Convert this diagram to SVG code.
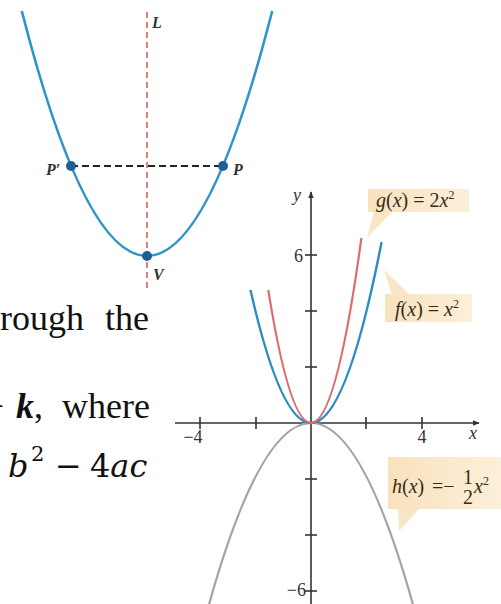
<svg xmlns="http://www.w3.org/2000/svg" width="501" height="604" viewBox="0 0 501 604">
<defs>
<style>
.body{font-family:"Liberation Serif","Times New Roman",serif;font-size:36px;fill:#111}
.math{font-family:"DejaVu Serif","Liberation Serif",serif;font-size:32px;fill:#111}
.pl{font-family:"Liberation Serif","Times New Roman",serif;font-size:16px;font-style:italic;font-weight:bold;fill:#333}
.lab{font-family:"Liberation Serif","Times New Roman",serif;font-size:20px;fill:#3a2a1a}
.tick{font-family:"Liberation Serif","Times New Roman",serif;font-size:18px;fill:#333}
.axis{stroke:#333;stroke-width:1.6;fill:none}
.tk{stroke:#333;stroke-width:1.6}
.box{fill:#fae6c6}
.it{font-style:italic}
</style>
<linearGradient id="bg" x1="0" y1="0" x2="1" y2="0">
<stop offset="0" stop-color="#f8e2bd"/>
<stop offset="1" stop-color="#fcefd9"/>
</linearGradient>
<marker id="ah" viewBox="0 0 10 10" refX="9" refY="5" markerWidth="7" markerHeight="7" orient="auto" markerUnits="userSpaceOnUse">
<path d="M0,1 L10,5 L0,9 Z" fill="#333"/>
</marker>
</defs>
<rect x="0" y="0" width="501" height="604" fill="#ffffff"/>

<!-- right graph -->
<g id="graph">
<g id="axes">
<line class="axis" x1="175" y1="423" x2="479" y2="423" marker-end="url(#ah)"/>
<line class="axis" x1="311" y1="604" x2="311" y2="192" marker-end="url(#ah)"/>
<line class="tk" x1="200" y1="417" x2="200" y2="429"/>
<line class="tk" x1="256" y1="417" x2="256" y2="429"/>
<line class="tk" x1="366" y1="417" x2="366" y2="429"/>
<line class="tk" x1="422" y1="417" x2="422" y2="429"/>
<line class="tk" x1="305" y1="255" x2="317" y2="255"/>
<line class="tk" x1="305" y1="311" x2="317" y2="311"/>
<line class="tk" x1="305" y1="367" x2="317" y2="367"/>
<line class="tk" x1="305" y1="479" x2="317" y2="479"/>
<line class="tk" x1="305" y1="535" x2="317" y2="535"/>
<line class="tk" x1="305" y1="591" x2="317" y2="591"/>
<text class="tick it" x="293" y="201">y</text>
<text class="tick it" x="469" y="439">x</text>
<text class="tick" x="303" y="262" text-anchor="end">6</text>
<text class="tick" x="306" y="596" text-anchor="end">−6</text>
<text class="tick" x="193" y="443" text-anchor="middle">−4</text>
<text class="tick" x="422" y="443" text-anchor="middle">4</text>
</g>
<g id="curves">
<path d="M208.3,607 Q311,239 413.7,607" fill="none" stroke="#a3a3a3" stroke-width="2.2"/>
<path d="M240.4,242 Q311,604 381.6,242" fill="none" stroke="#2a8cc4" stroke-width="2.4"/>
<path d="M260.6,238 Q311,608 361.4,238" fill="none" stroke="#dc6a72" stroke-width="2.2"/>
</g>
<g id="label-g">
<polygon class="box" points="374,211 393,211 367,238"/>
<rect x="368" y="189" width="101" height="23" fill="url(#bg)"/>
<text class="lab" x="376" y="207"><tspan class="it">g</tspan>(<tspan class="it">x</tspan>) = 2<tspan class="it">x</tspan><tspan font-size="12" dy="-8">2</tspan></text>
</g>
<g id="label-f">
<polygon class="box" points="392,295 410,295 384,270"/>
<rect x="385" y="294" width="87" height="28" fill="url(#bg)"/>
<text class="lab" x="395" y="316"><tspan class="it">f</tspan>(<tspan class="it">x</tspan>) = <tspan class="it">x</tspan><tspan font-size="12" dy="-8">2</tspan></text>
</g>
<g id="label-h">
<polygon class="box" points="398,508 420,508 399,531"/>
<rect x="388" y="457" width="113" height="52" fill="url(#bg)"/>
<text class="lab" x="392" y="493"><tspan class="it">h</tspan>(<tspan class="it">x</tspan>)<tspan x="432">=−</tspan></text>
<text class="lab" x="468" y="484" text-anchor="middle">1</text>
<text class="lab" x="468" y="504" text-anchor="middle">2</text>
<text class="lab" x="474" y="493"><tspan class="it">x</tspan><tspan font-size="12" dy="-8">2</tspan></text>
</g>
</g>

<!-- white cover of first figure -->
<rect x="0" y="0" width="270" height="290" fill="#ffffff"/>

<!-- left parabola figure -->
<g id="parabola">
<line x1="147" y1="12" x2="147" y2="290" stroke="#d9534f" stroke-width="1.5" stroke-dasharray="6,4"/>
<path d="M21.8,11 Q147,501 272.2,11" fill="none" stroke="#2f94c9" stroke-width="2.6"/>
</g>
<g id="connectors">
<line x1="71" y1="166" x2="223" y2="166" stroke="#222" stroke-width="1.8" stroke-dasharray="7,4"/>
</g>
<g id="node-P1">
<circle cx="71" cy="166" r="5" fill="#1e5f96"/>
<text class="pl" x="46" y="175">P′</text>
</g>
<g id="node-P">
<circle cx="223" cy="166" r="5" fill="#1e5f96"/>
<text class="pl" x="233" y="175">P</text>
</g>
<g id="node-V">
<circle cx="147" cy="256" r="5" fill="#1e5f96"/>
<text class="pl" x="153" y="280">V</text>
</g>
<g id="node-L">
<text class="pl" x="152" y="28">L</text>
</g>

<!-- text -->
<g id="paragraph">
<text class="body" x="0" y="330">rough <tspan x="105">the</tspan></text>
<text class="body" x="4" y="418" text-anchor="end">+</text>
<text class="body" x="16" y="418"><tspan font-weight="bold" font-style="italic">k</tspan>, <tspan x="62">where</tspan></text>
<text class="math" y="477"><tspan x="8" font-style="italic">b</tspan><tspan x="31" y="461" font-size="21">2</tspan><tspan x="55" y="477">−</tspan><tspan x="90">4</tspan><tspan font-style="italic">ac</tspan></text>
</g>
</svg>
